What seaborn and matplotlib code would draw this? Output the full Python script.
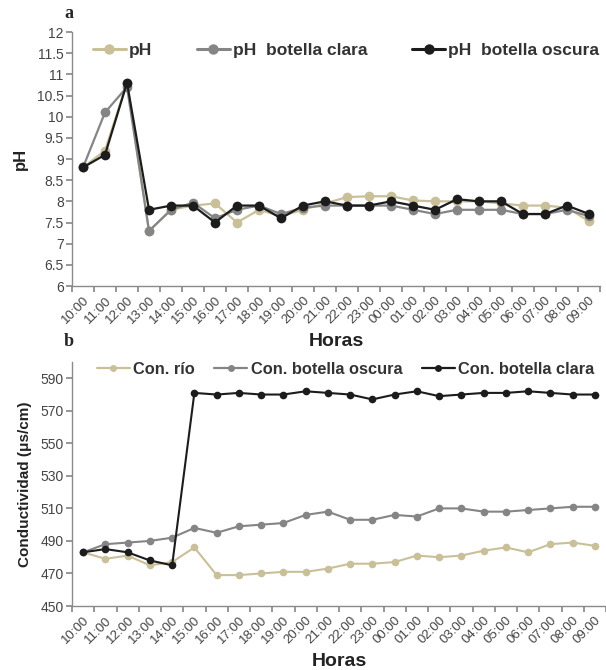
import numpy as np
import pandas as pd
import matplotlib
matplotlib.use("Agg")
import matplotlib.pyplot as plt
import seaborn as sns

horas = ["10:00", "11:00", "12:00", "13:00", "14:00", "15:00", "16:00", "17:00",
         "18:00", "19:00", "20:00", "21:00", "22:00", "23:00", "00:00", "01:00",
         "02:00", "03:00", "04:00", "05:00", "06:00", "07:00", "08:00", "09:00"]

ph_rio = [8.8, 9.2, 10.8, 7.3, 7.8, 7.9, 7.95, 7.5, 7.8, 7.65, 7.8, 7.95,
          8.1, 8.12, 8.12, 8.02, 8.0, 8.0, 8.0, 7.95, 7.9, 7.9, 7.85, 7.53]
ph_clara = [8.8, 10.1, 10.7, 7.3, 7.8, 7.97, 7.6, 7.8, 7.9, 7.7, 7.85, 7.9,
            7.9, 7.9, 7.9, 7.8, 7.7, 7.8, 7.8, 7.8, 7.7, 7.7, 7.8, 7.65]
ph_oscura = [8.8, 9.1, 10.8, 7.8, 7.9, 7.9, 7.5, 7.9, 7.9, 7.6, 7.9, 8.0,
             7.9, 7.9, 8.0, 7.9, 7.8, 8.05, 8.0, 8.0, 7.7, 7.7, 7.9, 7.7]

con_rio = [483, 479, 481, 475, 477, 486, 469, 469, 470, 471, 471, 473,
           476, 476, 477, 481, 480, 481, 484, 486, 483, 488, 489, 487]
con_oscura = [483, 488, 489, 490, 492, 498, 495, 499, 500, 501, 506, 508,
              503, 503, 506, 505, 510, 510, 508, 508, 509, 510, 511, 511]
con_clara = [483, 485, 483, 478, 475, 581, 580, 581, 580, 580, 582, 581,
             580, 577, 580, 582, 579, 580, 581, 581, 582, 581, 580, 580]

ph_names = ["pH", "pH  botella clara", "pH  botella oscura"]
con_names = ["Con. río", "Con. botella oscura", "Con. botella clara"]

TAN = "#c9c09a"
GRAY = "#858585"
BLACK = "#1c1c1c"

sns.set_theme(style="white")
plt.rcParams['font.family'] = ['Liberation Sans', 'DejaVu Sans']

idx = np.arange(len(horas))
df_ph = pd.concat([
    pd.DataFrame({"idx": idx, "val": v, "serie": n})
    for v, n in zip([ph_rio, ph_clara, ph_oscura], ph_names)
])
df_con = pd.concat([
    pd.DataFrame({"idx": idx, "val": v, "serie": n})
    for v, n in zip([con_rio, con_oscura, con_clara], con_names)
])

fig = plt.figure(figsize=(6.06, 6.70), dpi=100)
W, H = 606, 670
ax1 = fig.add_axes([72 / W, (H - 286) / H, 528 / W, 254 / H])
ax2 = fig.add_axes([72 / W, (H - 606) / H, 534 / W, 244 / H])


def style_axis(ax, xlim):
    for s in ["top", "right"]:
        ax.spines[s].set_visible(False)
    for s in ["left", "bottom"]:
        ax.spines[s].set_color("#8a8a8a")
        ax.spines[s].set_linewidth(1.0)
    ax.set_xlim(*xlim)
    ax.set_xticks(np.arange(-0.5, len(horas), 1.0))
    ax.set_xticklabels([])
    ax.set_xticks(idx, minor=True)
    ax.set_xticklabels(horas, minor=True, rotation=45, ha="right",
                       rotation_mode="anchor", fontsize=9.5, color="#444444")
    ax.tick_params(axis="x", which="major", bottom=True, length=4,
                   color="#8a8a8a", direction="out")
    ax.tick_params(axis="x", which="minor", bottom=True, length=0, pad=6)
    ax.tick_params(axis="y", left=True, length=4, color="#8a8a8a",
                   direction="out", labelsize=10, labelcolor="#444444", pad=2)
    ax.grid(False)


def fix_legend(leg, ms, lw):
    for line in leg.get_lines():
        line.set_markersize(ms)
        line.set_linewidth(lw)
        line.set_markeredgewidth(0)
    for t in leg.get_texts():
        t.set_color("#333333")


# Top chart (a)
sns.lineplot(data=df_ph, x="idx", y="val", hue="serie", hue_order=ph_names,
             palette=[TAN, GRAY, BLACK], style="serie", style_order=ph_names,
             markers={n: "o" for n in ph_names}, dashes=False,
             markersize=7, markeredgewidth=0, linewidth=1.6, ax=ax1)
style_axis(ax1, (-0.5, 23.5))
ax1.set_ylim(6, 12)
yt = np.arange(6, 12.01, 0.5)
ax1.set_yticks(yt)
ax1.set_yticklabels([f"{v:g}" for v in yt])
ax1.set_xlabel("Horas", fontsize=14, fontweight="bold", color="#222222", labelpad=5)
ax1.set_ylabel("pH", fontsize=12, fontweight="bold", color="#222222")
ax1.yaxis.set_label_coords(-0.083, 0.5)
h, l = ax1.get_legend_handles_labels()
leg1 = ax1.legend(h, l, loc="center left", bbox_to_anchor=(21 / 528, 1 - 18 / 254),
                  ncol=3, frameon=False, handlelength=1.9, handletextpad=0.15,
                  columnspacing=2.6, borderaxespad=0.0, borderpad=0.0,
                  prop={"weight": "bold", "size": 12.5})
fix_legend(leg1, 7.5, 2.2)

# Bottom chart (b)
sns.lineplot(data=df_con, x="idx", y="val", hue="serie", hue_order=con_names,
             palette=[TAN, GRAY, BLACK], style="serie", style_order=con_names,
             markers={n: "o" for n in con_names}, dashes=False,
             markersize=5.5, markeredgewidth=0, linewidth=1.5, ax=ax2)
style_axis(ax2, (-0.5, 23.4))
ax2.set_ylim(450, 600)
yt2 = np.arange(450, 591, 20)
ax2.set_yticks(yt2)
ax2.set_yticklabels([f"{v:g}" for v in yt2])
ax2.set_xlabel("Horas", fontsize=14, fontweight="bold", color="#222222", labelpad=5)
ax2.set_ylabel("Conductividad (μs/cm)", fontsize=11, fontweight="bold",
               color="#222222")
ax2.yaxis.set_label_coords(-0.075, 0.5)
h, l = ax2.get_legend_handles_labels()
leg2 = ax2.legend(h, l, loc="center left", bbox_to_anchor=(25 / 534, 1 - 7 / 244),
                  ncol=3, frameon=False, handlelength=2.0, handletextpad=0.2,
                  columnspacing=1.2, borderaxespad=0.0, borderpad=0.0,
                  prop={"weight": "bold", "size": 11.8})
fix_legend(leg2, 5, 1.6)

fig.text(64 / W, 1 - 14 / H, "a", fontsize=13, fontweight="bold",
         family="Liberation Serif", va="center")
fig.text(64 / W, 1 - 341 / H, "b", fontsize=13, fontweight="bold",
         family="Liberation Serif", va="center")

fig.savefig("out.png", dpi=100)
